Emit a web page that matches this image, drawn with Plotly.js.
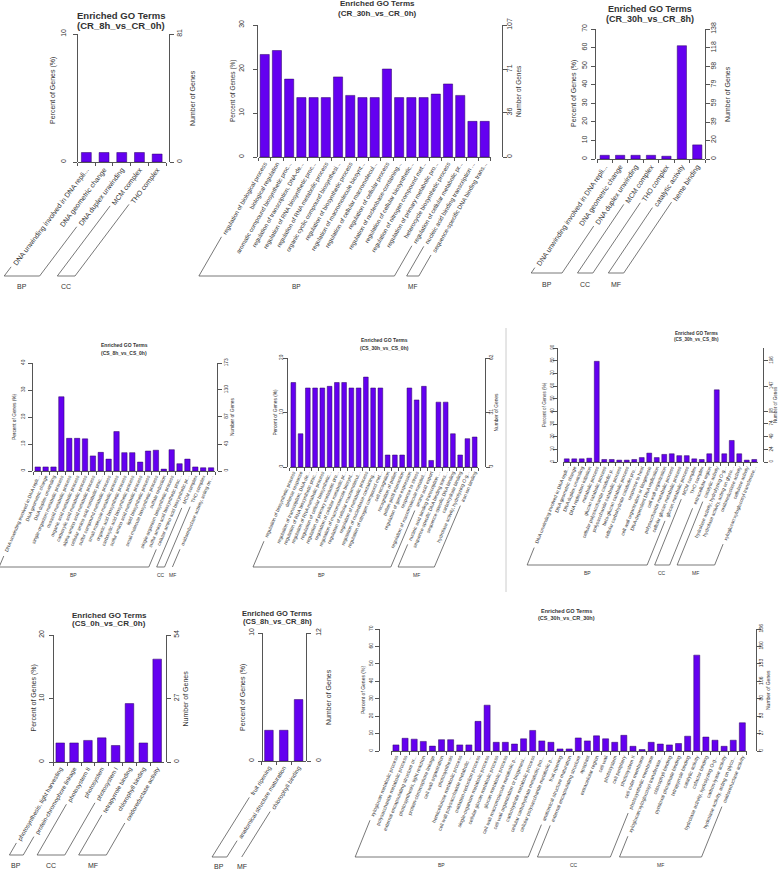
<!DOCTYPE html>
<html><head><meta charset="utf-8">
<script src="https://cdn.plot.ly/plotly-3.0.1.min.js"></script>
<style>body{margin:0;background:#fff}#chart{width:778px;height:870px}</style>
</head><body><div id="chart"></div>
<script>
// ---------------- DATA ----------------
const titles = ['(CR_8h_vs_CR_0h)','(CR_30h_vs_CR_0h)','(CR_30h_vs_CR_8h)','(CS_8h_vs_CS_0h)','(CS_30h_vs_CS_0h)','(CS_30h_vs_CS_8h)','(CS_0h_vs_CR_0h)','(CS_8h_vs_CR_8h)','(CS_30h_vs_CR_30h)'];

const p1Terms = ['DNA unwinding involved in DNA repli...','DNA geometric change','DNA duplex unwinding','MCM complex','THO complex'];
const p1Pct = [0.74,0.74,0.74,0.74,0.62];
const p1Grp = ['BP','BP','BP','CC','CC'];
const p1Left = [0,10];
const p1Right = [0,81];

const p2Terms = ['regulation of biological process','biological regulation','aromatic compound biosynthetic proc...','regulation of transcription, DNA-de...','regulation of RNA biosynthetic proc...','regulation of RNA metabolic process','organic cyclic compound biosynthesi...','regulation of biosynthetic process','regulation of macromolecule biosynt...','regulation of cellular macromolecul...','regulation of cellular process','regulation of nucleobase-containing...','regulation of cellular biosynthetic...','regulation of nitrogen compound met...','regulation of primary metabolic pro...','heterocycle biosynthetic process','regulation of cellular metabolic pr...','nucleic acid binding transcription ...','sequence-specific DNA binding trans...'];
const p2Pct = [23.3,24.2,17.7,13.5,13.5,13.5,18.2,14.0,13.5,13.5,20.0,13.5,13.5,13.5,14.3,16.6,14.0,8.1,8.1];
const p2Grp = ['BP','BP','BP','BP','BP','BP','BP','BP','BP','BP','BP','BP','BP','BP','BP','BP','BP','MF','MF'];
const p2Left = [0,10,20,30];
const p2Right = [0,36,71,107];

const p3Terms = ['DNA unwinding involved in DNA repli...','DNA geometric change','DNA duplex unwinding','MCM complex','THO complex','catalytic activity','heme binding'];
const p3Pct = [2.0,2.0,2.0,2.0,1.5,61.0,7.6];
const p3Grp = ['BP','BP','BP','CC','CC','MF','MF'];
const p3Left = [0,10,20,30,40,50,60,70];
const p3Right = [0,20,39,59,79,98,118,138];

const p4Terms = ['DNA unwinding involved in DNA repli...','DNA geometric change','DNA duplex unwinding','single-organism metabolic process','oxoacid metabolic process','organic acid metabolic process','carboxylic acid metabolic process','alpha-amino acid metabolic process','cellular amino acid metabolic proc...','sulfur compound metabolic process','small molecule metabolic process','organic acid biosynthetic process','carboxylic acid biosynthetic process','sulfur amino acid metabolic process','lipid biosynthetic process','small molecule biosynthetic process','sulfate reduction','single-organism biosynthetic process','sulfur amino acid biosynthetic proc...','cellular amino acid biosynthetic pr...','MCM complex','THO complex','oxidoreductase activity, acting on ...'];
const p4Pct = [1.5,1.5,1.5,27.5,12.1,12.1,11.9,5.6,6.9,4.4,14.6,6.8,6.8,3.3,7.4,7.7,0.7,7.9,2.7,4.4,1.5,1.2,1.2];
const p4Grp = ['BP','BP','BP','BP','BP','BP','BP','BP','BP','BP','BP','BP','BP','BP','BP','BP','BP','BP','BP','BP','CC','CC','MF'];
const p4Left = [0,10,20,30,40];
const p4Right = [0,43,87,130,173];

const p5Terms = ['regulation of biosynthetic process','defense response','regulation of transcription, DNA-de...','regulation of RNA biosynthetic proc...','regulation of RNA metabolic process','regulation of cellular biosynthetic...','regulation of primary metabolic pro...','regulation of cellular metabolic pr...','regulation of macromolecule biosynt...','regulation of cellular macromolecul...','regulation of metabolic process','regulation of nucleobase-containing...','regulation of nitrogen compound met...','cell recognition','recognition of pollen','pollen-pistil interaction','regulation of gene expression','response to stress','regulation of macromolecule metabol...','amino acid export','nucleic acid binding transcription ...','sequence-specific DNA binding trans...','sequence-specific DNA binding','carbohydrate binding','hydrolase activity, hydrolyzing O-g...','iron ion binding'];
const p5Pct = [15.5,6.1,14.5,14.5,14.5,14.8,15.5,15.5,14.5,14.5,16.5,14.5,14.5,2.2,2.2,2.2,14.5,12.3,14.8,1.2,11.9,11.9,6.1,2.2,5.2,5.5];
const p5Grp = ['BP','BP','BP','BP','BP','BP','BP','BP','BP','BP','BP','BP','BP','BP','BP','BP','BP','BP','BP','BP','MF','MF','MF','MF','MF','MF'];
const p5Left = [0,10,20];
const p5Right = [0,31,62];

const p6Terms = ['DNA unwinding involved in DNA repli...','DNA geometric change','DNA duplex unwinding','DNA replication initiation','metabolic process','glucan catabolic process','cellular polysaccharide catabolic p...','polysaccharide catabolic process','beta-glucan catabolic process','cellular carbohydrate catabolic pro...','response to heat','cell wall organization or biogenesis','DNA-dependent DNA replication','cell wall organization','polysaccharide metabolic process','cellular glucan metabolic process','glucan metabolic process','MCM complex','THO complex','extracellular region','catalytic activity','hydrolase activity, hydrolyzing O-g...','hydrolase activity, acting on glyco...','oxidoreductase activity','cellulase activity','xyloglucan:xyloglucosyl transferase...'];
const p6Pct = [2.5,2.5,2.5,3.0,79.5,2.0,2.0,1.5,1.5,2.0,3.5,7.0,3.5,6.0,6.5,5.0,5.0,2.5,2.0,6.5,57.0,6.5,17.0,6.5,1.5,2.0];
const p6Grp = ['BP','BP','BP','BP','BP','BP','BP','BP','BP','BP','BP','BP','BP','BP','BP','BP','BP','CC','CC','CC','MF','MF','MF','MF','MF','MF'];
const p6Left = [0,10,20,30,40,50,60,70,80,90];
const p6Right = [0,24,49,74,98,147,196];

const p7Terms = ['photosynthesis, light harvesting','protein-chromophore linkage','photosystem II','photosystem','photosystem I','tetrapyrrole binding','chlorophyll binding','oxidoreductase activity'];
const p7Pct = [3.0,3.0,3.4,3.8,2.6,9.2,3.0,16.2];
const p7Grp = ['BP','BP','CC','CC','CC','MF','MF','MF'];
const p7Left = [0,10,20];
const p7Right = [0,27,54];

const p8Terms = ['fruit ripening','anatomical structure maturation','chlorophyll binding'];
const p8Pct = [2.4,2.4,4.8];
const p8Grp = ['BP','BP','MF'];
const p8Left = [0,10];
const p8Right = [0,12];

const p9Terms = ['xyloglucan metabolic process','polysaccharide metabolic process','external encapsulating structure or...','photosynthesis, light reaction','protein-chromophore linkage','cell wall organization','photosynthesis','hemicellulose metabolic process','cell wall polysaccharide metabolic ...','oxidation-reduction process','single-organism metabolic process','cellular glucan metabolic process','glucan metabolic process','cell wall macromolecule metabolic p...','cell wall organization or biogenesi...','carbohydrate metabolic process','cellular carbohydrate metabolic pro...','cellular polysaccharide metabolic p...','fruit ripening','anatomical structure maturation','external encapsulating structure','apoplast','extracellular region','cell wall','photosystem','cell periphery','photosystem II','cell outer membrane','photosynthetic membrane','xyloglucan:xyloglucosyl transferase...','chlorophyll binding','pyridoxal phosphate binding','tetrapyrrole binding','catalytic activity','cofactor binding','hydrolase activity, hydrolyzing O-g...','carbon-lyase activity','hydrolase activity, acting on glyco...','oxidoreductase activity'];
const p9Pct = [3.5,7.3,6.8,5.5,2.8,6.5,6.5,3.5,3.5,17.0,26.3,5.0,5.0,4.0,7.0,11.8,5.8,5.0,1.2,1.2,7.5,5.8,8.7,7.0,5.0,9.0,2.7,0.8,5.0,4.0,3.5,4.3,8.5,55.0,8.0,6.2,2.7,6.2,16.2];
const p9Grp = ['BP','BP','BP','BP','BP','BP','BP','BP','BP','BP','BP','BP','BP','BP','BP','BP','BP','BP','BP','BP','CC','CC','CC','CC','CC','CC','CC','CC','CC','MF','MF','MF','MF','MF','MF','MF','MF','MF','MF'];
const p9Left = [0,10,20,30,40,50,60,70];
const p9Right = [0,27,53,80,106,133,160,186];

// ---------------- LAYOUT (pixel geometry & styles) ----------------
const W = 778, H = 870;
const FONT = '"Liberation Sans", Arial, sans-serif';
const BAR = '#6400f0', LINE = '#555555', TXT = '#333333';

const panels = [
 {terms:p1Terms,pct:p1Pct,grp:p1Grp,lt:p1Left,rt:p1Right,ymax:10,rmax:81,
  L:77,R:169,x0:77.5,x1:166,top:34,bot:162,bw:0.56,lf:7,ang:53,yf:7,atf:7,alx:53,arx:192,aly:90,ls:4,rs:0,baseY:276,gy:286,gf:7,tx:121,ty:[15,25],tf:9.5},
 {terms:p2Terms,pct:p2Pct,grp:p2Grp,lt:p2Left,rt:p2Right,ymax:30,rmax:107,
  L:257,R:502,x0:258.6,x1:490.8,top:25,bot:157,bw:0.75,lf:6,ang:60,yf:7,atf:6.5,alx:233,arx:519,ls:6,rs:-3,baseY:276,gy:286,gf:6.5,tx:377,ty:[4,14],tf:8},
 {terms:p3Terms,pct:p3Pct,grp:p3Grp,lt:p3Left,rt:p3Right,ymax:70,rmax:138,
  L:595,R:705,x0:597,x1:705,top:29,bot:159,bw:0.6,lf:7,ang:56,yf:7,atf:7,alx:574,arx:728,ls:1,rs:-2,baseY:273,gy:284,gf:7,tx:650,ty:[9,19],tf:9},
 {terms:p4Terms,pct:p4Pct,grp:p4Grp,lt:p4Left,rt:p4Right,ymax:40,rmax:173,
  L:32,R:217,x0:33.8,x1:215,top:363,bot:471,bw:0.68,lf:4.8,ang:67,yf:4.8,atf:4.8,alx:15,arx:233,ls:1,rs:0,baseY:567,gy:575,gf:5,tx:124,ty:[345,353],tf:5},
 {terms:p5Terms,pct:p5Pct,grp:p5Grp,lt:p5Left,rt:p5Right,ymax:20,rmax:62,
  L:287,R:485,x0:289.7,x1:478.3,top:358,bot:467,bw:0.65,lf:4.8,ang:67,yf:4.8,atf:4.8,alx:275,arx:496,ls:-2,rs:-3,baseY:567,gy:575,gf:5,tx:384,ty:[340,348],tf:5},
 {terms:p6Terms,pct:p6Pct,grp:p6Grp,lt:p6Left,rt:p6Right,ymax:90,rmax:220.5,
  L:557,R:763,x0:563,x1:758,top:348,bot:462,bw:0.65,lf:4.8,ang:68,yf:4.6,atf:4.6,alx:545,arx:776,ls:-3,rs:-1,baseY:565,gy:573,gf:5,tx:696,ty:[334,340],tf:4.6},
 {terms:p7Terms,pct:p7Pct,grp:p7Grp,lt:p7Left,rt:p7Right,ymax:20,rmax:54,
  L:53,R:166,x0:53.3,x1:164.1,top:635,bot:762,bw:0.62,lf:6,ang:60,yf:7,atf:7,alx:33,arx:185,ls:2,rs:0,baseY:855,gy:865,gf:7,tx:109,ty:[615,623],tf:8},
 {terms:p8Terms,pct:p8Pct,grp:p8Grp,lt:p8Left,rt:p8Right,ymax:10,rmax:12,
  L:262,R:306,x0:261.5,x1:306,top:633,bot:761,bw:0.58,lf:6,ang:58,yf:7,atf:7,alx:243,arx:328,ls:1,rs:2,baseY:857,gy:866,gf:7,tx:277,ty:[613,621],tf:7.5},
 {terms:p9Terms,pct:p9Pct,grp:p9Grp,lt:p9Left,rt:p9Right,ymax:70,rmax:186,
  L:379,R:756,x0:391.4,x1:746.9,top:629,bot:751,bw:0.66,lf:5,ang:68,yf:5,atf:5,alx:363,arx:768,ls:0,rs:-4,baseY:857,gy:865,gf:5,tx:566,ty:[611,618],tf:5.5}
];

const data = [], shapes = [], annotations = [];
const layout = {width:W, height:H, margin:{l:0,r:0,t:0,b:0,pad:0}, showlegend:false,
  paper_bgcolor:'#ffffff', plot_bgcolor:'rgba(0,0,0,0)', font:{family:FONT,color:TXT}, bargap:0};
const mctx = document.createElement('canvas').getContext('2d');
const PX = p => p / W, PY = p => 1 - p / H;
function hline(x0,y0,x1,y1,col,w){shapes.push({type:'line',xref:'paper',yref:'paper',x0:PX(x0),y0:PY(y0),x1:PX(x1),y1:PY(y1),line:{color:col||LINE,width:w||0.8}});}
function text(x,y,t,size,opts){annotations.push(Object.assign({xref:'paper',yref:'paper',x:PX(x),y:PY(y),text:t,showarrow:false,xanchor:'center',yanchor:'middle',font:{family:FONT,size:size,color:TXT}},opts||{}));}

panels.forEach((P,k) => {
  const i = k + 1, j = k + 10;
  const n = P.terms.length;
  data.push({type:'bar', x:P.terms, y:P.pct, xaxis:'x'+i, yaxis:'y'+i, width:P.bw,
    marker:{color:BAR, line:{color:'#2a0060', width:0.5}}, hoverinfo:'x+y'});
  data.push({type:'scatter', mode:'markers', x:[P.terms[0]], y:[0], xaxis:'x'+i, yaxis:'y'+j,
    marker:{opacity:0}, hoverinfo:'skip'});
  const dom = [PY(P.bot), PY(P.top)];
  layout['xaxis'+i] = {domain:[PX(P.x0),PX(P.x1)], anchor:'y'+i, type:'category', categoryorder:'array', categoryarray:P.terms,
    range:[-0.5,n-0.5], tickmode:'linear', tick0:0, dtick:1, showline:true, linecolor:LINE, linewidth:1,
    ticks:'outside', tickson:'boundaries', ticklen:3, tickcolor:LINE, tickangle:-P.ang,
    tickfont:{family:FONT,size:P.lf,color:TXT}, showgrid:false, zeroline:false, fixedrange:true, automargin:false};
  layout['yaxis'+i] = {domain:dom, anchor:'free', position:PX(P.L), range:[0,P.ymax], tickmode:'array', tickvals:P.lt,
    ticktext:P.lt.map(String), showline:true, linecolor:LINE, linewidth:1, ticks:'outside', ticklen:4, tickcolor:LINE,
    tickangle:-90, ticklabelstandoff:P.ls, tickfont:{family:FONT,size:P.yf,color:TXT}, showgrid:false, zeroline:false, fixedrange:true, automargin:false};
  layout['yaxis'+j] = {domain:dom, overlaying:'y'+i, side:'right', anchor:'free', position:PX(P.R), range:[0,P.rmax], tickmode:'array',
    tickvals:P.rt, ticktext:P.rt.map(String), showline:true, linecolor:LINE, linewidth:1, ticks:'outside', ticklen:4, tickcolor:LINE,
    tickangle:-90, ticklabelstandoff:P.rs, tickfont:{family:FONT,size:P.yf,color:TXT}, showgrid:false, zeroline:false, fixedrange:true, automargin:false};

  // titles
  text(P.tx, P.ty[0], '<b>Enriched GO Terms</b>', P.tf);
  text(P.tx, P.ty[1], '<b>' + titles[k] + '</b>', P.tf);
  // axis titles
  const mid = P.aly || (P.top + P.bot) / 2;
  text(P.alx, mid, 'Percent of Genes (%)', P.atf, {textangle:-90});
  text(P.arx, (P.top + P.bot) / 2, 'Number of Genes', P.atf, {textangle:-90});

  // group brackets, following the slant of the tick labels
  const th = P.ang * Math.PI / 180, c = Math.cos(th), s = Math.sin(th);
  const step = (P.x1 - P.x0) / n;
  const yA = P.bot + 5;
  mctx.font = P.lf + 'px "Liberation Sans"';
  const xc = q => P.x0 + (q + 0.5) * step;
  const endPt = q => { const tw = mctx.measureText(P.terms[q]).width + 4; return [xc(q) - tw * c, yA + tw * s]; };
  const basePt = q => [xc(q) - (P.baseY - yA) / Math.tan(th), P.baseY];
  let a = 0;
  while (a < n) {
    let b = a;
    while (b + 1 < n && P.grp[b + 1] === P.grp[a]) b++;
    const ea = endPt(a), eb = endPt(b), ba = basePt(a), bb = basePt(b);
    if (ea[1] < P.baseY) hline(ea[0], ea[1], ba[0], ba[1]);
    if (b !== a) hline(ba[0], ba[1], bb[0], bb[1]);
    if (b !== a && eb[1] < P.baseY) hline(eb[0], eb[1], bb[0], bb[1]);
    text((ba[0] + bb[0]) / 2, P.gy, P.grp[a], P.gf);
    a = b + 1;
  }
});
// faint separator in the middle row
hline(506, 328, 506, 592, '#cccccc', 1);

layout.shapes = shapes;
layout.annotations = annotations;
Plotly.newPlot('chart', data, layout, {displayModeBar:false, staticPlot:true});
</script></body></html>
